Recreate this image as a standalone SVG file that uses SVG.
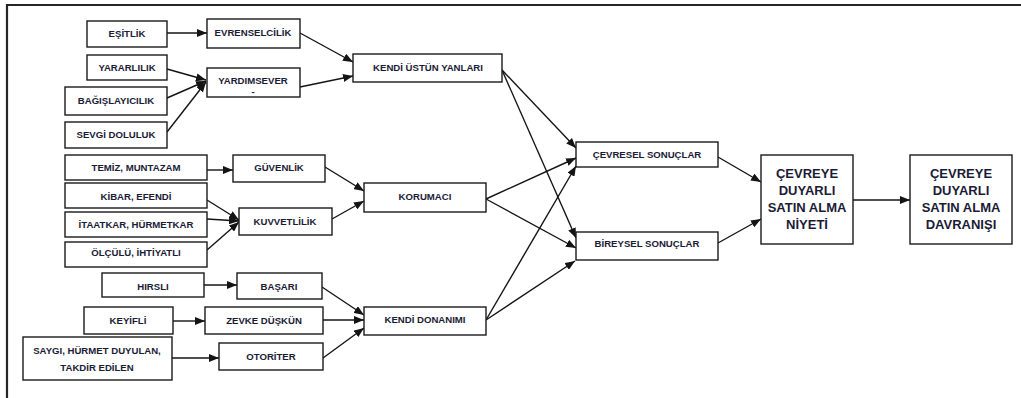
<svg xmlns="http://www.w3.org/2000/svg" width="1021" height="398" viewBox="0 0 1021 398">
  <style>
    .box { fill: #ffffff; stroke: #1a1a1a; stroke-width: 1.4; }
    .t { font-family: "Liberation Sans", Arial, sans-serif; font-weight: bold; font-size: 9.6px; fill: #1b1b36; text-anchor: middle; }
    .tb { font-family: "Liberation Sans", Arial, sans-serif; font-weight: bold; font-size: 13px; fill: #1b1b36; text-anchor: middle; }
    .c { stroke: #141414; stroke-width: 1.4; fill: none; marker-end: url(#ah); }
    .frame { stroke: #262626; stroke-width: 2.2; fill: none; }
  </style>
  <defs>
    <marker id="ah" viewBox="0 0 10 8" refX="10" refY="4" markerWidth="10" markerHeight="8" markerUnits="userSpaceOnUse" orient="auto">
      <path d="M0,0 L10,4 L0,8 z" fill="#141414"/>
    </marker>
  </defs>
  <rect width="1021" height="398" fill="#ffffff"/>

  <!-- page frame: top rule and left rule -->
  <path class="frame" d="M1021,5 H7 V398"/>

  <!-- connectors -->
  <g id="connectors">
    <line class="c" x1="167" y1="33" x2="207" y2="33"/>
    <line class="c" x1="167" y1="69" x2="206" y2="80"/>
    <line class="c" x1="167" y1="98" x2="206" y2="81"/>
    <line class="c" x1="167" y1="132" x2="206" y2="82"/>
    <line class="c" x1="300" y1="33" x2="353" y2="62"/>
    <line class="c" x1="300" y1="87" x2="353" y2="76"/>
    <line class="c" x1="502" y1="70" x2="576" y2="148"/>
    <line class="c" x1="502" y1="70" x2="576" y2="238"/>

    <line class="c" x1="207" y1="170" x2="233" y2="170"/>
    <line class="c" x1="207" y1="200" x2="239" y2="220"/>
    <line class="c" x1="207" y1="219" x2="239" y2="221"/>
    <line class="c" x1="207" y1="250" x2="239" y2="222"/>
    <line class="c" x1="325" y1="167" x2="364" y2="191"/>
    <line class="c" x1="332" y1="219" x2="364" y2="201"/>
    <line class="c" x1="486" y1="199" x2="576" y2="158"/>
    <line class="c" x1="486" y1="199" x2="576" y2="248"/>

    <line class="c" x1="204" y1="285" x2="237" y2="285"/>
    <line class="c" x1="173" y1="321" x2="205" y2="321"/>
    <line class="c" x1="172" y1="358" x2="219" y2="358"/>
    <line class="c" x1="322" y1="287" x2="364" y2="315"/>
    <line class="c" x1="323" y1="320" x2="364" y2="320"/>
    <line class="c" x1="323" y1="358" x2="364" y2="328"/>
    <line class="c" x1="486" y1="320" x2="576" y2="166"/>
    <line class="c" x1="486" y1="320" x2="575" y2="261"/>

    <line class="c" x1="718" y1="157" x2="761" y2="182"/>
    <line class="c" x1="718" y1="243" x2="761" y2="219"/>
    <line class="c" x1="853" y1="200" x2="910" y2="200"/>
  </g>

  <!-- first column -->
  <g id="esitlik"><rect class="box" x="87" y="21" width="80" height="26"/><text class="t" x="127" y="37">EŞİTLİK</text></g>
  <g id="yararlilik"><rect class="box" x="87" y="55" width="80" height="25"/><text class="t" x="127" y="71">YARARLILIK</text></g>
  <g id="bagislayicilik"><rect class="box" x="65" y="87" width="102" height="28"/><text class="t" x="116" y="104">BAĞIŞLAYICILIK</text></g>
  <g id="sevgi-doluluk"><rect class="box" x="65" y="122" width="102" height="26"/><text class="t" x="116" y="138">SEVGİ DOLULUK</text></g>

  <g id="temiz"><rect class="box" x="65" y="155" width="142" height="25"/><text class="t" x="136" y="171">TEMİZ, MUNTAZAM</text></g>
  <g id="kibar"><rect class="box" x="65" y="183" width="142" height="25"/><text class="t" x="136" y="200">KİBAR, EFENDİ</text></g>
  <g id="itaatkar"><rect class="box" x="65" y="212" width="142" height="25"/><text class="t" x="136" y="228">İTAATKAR, HÜRMETKAR</text></g>
  <g id="olculu"><rect class="box" x="65" y="242" width="142" height="25"/><text class="t" x="136" y="256">ÖLÇÜLÜ, İHTİYATLI</text></g>

  <g id="hirsli"><rect class="box" x="102" y="273" width="102" height="24"/><text class="t" x="153" y="290">HIRSLI</text></g>
  <g id="keyifli"><rect class="box" x="84" y="307" width="89" height="27"/><text class="t" x="128" y="324">KEYİFLİ</text></g>
  <g id="saygi"><rect class="box" x="23" y="337" width="149" height="43"/><text class="t" x="97" y="354">SAYGI, HÜRMET DUYULAN,</text><text class="t" x="97" y="371">TAKDİR EDİLEN</text></g>

  <!-- second column -->
  <g id="evrenselcilik"><rect class="box" x="207" y="19" width="93" height="29"/><text class="t" x="253" y="36">EVRENSELCİLİK</text></g>
  <g id="yardimsever"><rect class="box" x="207" y="68" width="93" height="29"/><text class="t" x="253" y="84">YARDIMSEVER</text><text class="t" x="253" y="95" font-size="8px">-</text></g>
  <g id="guvenlik"><rect class="box" x="233" y="155" width="92" height="27"/><text class="t" x="279" y="171">GÜVENLİK</text></g>
  <g id="kuvvetlilik"><rect class="box" x="239" y="208" width="93" height="27"/><text class="t" x="285" y="225">KUVVETLİLİK</text></g>
  <g id="basari"><rect class="box" x="237" y="273" width="85" height="26"/><text class="t" x="279" y="290">BAŞARI</text></g>
  <g id="zevke-duskun"><rect class="box" x="205" y="307" width="118" height="27"/><text class="t" x="264" y="324">ZEVKE DÜŞKÜN</text></g>
  <g id="otoriter"><rect class="box" x="219" y="343" width="104" height="27"/><text class="t" x="271" y="360">OTORİTER</text></g>

  <!-- third column -->
  <g id="kendi-ustun-yanlari"><rect class="box" x="353" y="54" width="149" height="28"/><text class="t" x="428" y="71">KENDİ ÜSTÜN YANLARI</text></g>
  <g id="korumaci"><rect class="box" x="364" y="183" width="122" height="29"/><text class="t" x="425" y="200">KORUMACI</text></g>
  <g id="kendi-donanimi"><rect class="box" x="364" y="307" width="122" height="28"/><text class="t" x="425" y="323">KENDİ DONANIMI</text></g>

  <!-- outcomes -->
  <g id="cevresel-sonuclar"><rect class="box" x="576" y="142" width="142" height="25"/><text class="t" x="647" y="158">ÇEVRESEL SONUÇLAR</text></g>
  <g id="bireysel-sonuclar"><rect class="box" x="576" y="232" width="142" height="28"/><text class="t" x="647" y="247">BİREYSEL SONUÇLAR</text></g>

  <g id="niyet"><rect class="box" x="761" y="155" width="92" height="89"/>
    <text class="tb" x="807" y="177.5">ÇEVREYE</text>
    <text class="tb" x="807" y="194.5">DUYARLI</text>
    <text class="tb" x="807" y="211.5">SATIN ALMA</text>
    <text class="tb" x="807" y="228.5">NİYETİ</text>
  </g>
  <g id="davranis"><rect class="box" x="910" y="155" width="102" height="89"/>
    <text class="tb" x="961" y="177.5">ÇEVREYE</text>
    <text class="tb" x="961" y="194.5">DUYARLI</text>
    <text class="tb" x="961" y="211.5">SATIN ALMA</text>
    <text class="tb" x="961" y="228.5">DAVRANIŞI</text>
  </g>
</svg>
